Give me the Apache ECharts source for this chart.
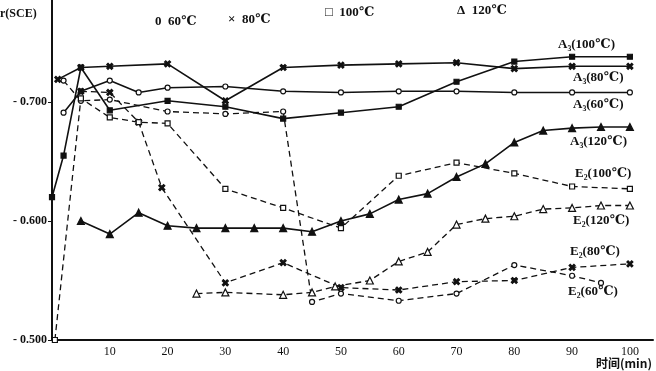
<!DOCTYPE html>
<html><head><meta charset="utf-8">
<script src="https://cdn.jsdelivr.net/npm/echarts@6/dist/echarts.min.js"></script>
<style>html,body{margin:0;padding:0;background:#fff}#c{width:656px;height:371px}</style>
</head><body><div id="c"></div>
<script>
// time (min) and potential (V vs SCE)
var tA3_60  = [2,5,10,15,20,30,40,50,60,70,80,90,100];
var vA3_60  = [-0.691,-0.709,-0.718,-0.708,-0.712,-0.713,-0.709,-0.708,-0.709,-0.709,-0.708,-0.708,-0.708];
var tA3_80  = [1,5,10,20,30,40,50,60,70,80,90,100];
var vA3_80  = [-0.719,-0.729,-0.730,-0.732,-0.701,-0.729,-0.731,-0.732,-0.733,-0.728,-0.730,-0.730];
var tA3_100 = [0,2,5,10,20,30,40,50,60,70,80,90,100];
var vA3_100 = [-0.620,-0.655,-0.729,-0.693,-0.701,-0.696,-0.686,-0.691,-0.696,-0.717,-0.734,-0.738,-0.738];
var tA3_120 = [5,10,15,20,25,30,35,40,45,50,55,60,65,70,75,80,85,90,95,100];
var vA3_120 = [-0.600,-0.589,-0.607,-0.596,-0.594,-0.594,-0.594,-0.594,-0.591,-0.600,-0.606,-0.618,-0.623,-0.637,-0.648,-0.666,-0.676,-0.678,-0.679,-0.679];
var tE2_60  = [2,5,10,20,30,40,45,50,60,70,80,90,95];
var vE2_60  = [-0.718,-0.701,-0.702,-0.692,-0.690,-0.692,-0.532,-0.539,-0.533,-0.539,-0.563,-0.554,-0.548];
var tE2_80  = [5,10,15,19,30,40,50,60,70,80,90,100];
var vE2_80  = [-0.709,-0.708,-0.683,-0.628,-0.548,-0.565,-0.544,-0.542,-0.549,-0.550,-0.561,-0.564];
var tE2_100 = [0.5,5,10,15,20,30,40,50,60,70,80,90,100];
var vE2_100 = [-0.500,-0.703,-0.687,-0.683,-0.682,-0.627,-0.611,-0.594,-0.638,-0.649,-0.640,-0.629,-0.627];
var tE2_120 = [25,30,40,45,49,55,60,65,70,75,80,85,90,95,100];
var vE2_120 = [-0.539,-0.540,-0.538,-0.540,-0.545,-0.550,-0.566,-0.574,-0.597,-0.602,-0.604,-0.610,-0.611,-0.613,-0.613];

var xTicks = [10,20,30,40,50,60,70,80,90,100];
var yTicks = [-0.7,-0.6,-0.5];

var seriesLabels = ['A₃(60℃)','A₃(80℃)','A₃(100℃)','A₃(120℃)','E₂(60℃)','E₂(80℃)','E₂(100℃)','E₂(120℃)'];
var legendTexts = ['0  60℃','×  80℃','□  100℃','Δ  120℃'];
var xName = '时间(min)';
var yName = 'r(SCE)';

function pairs(t, v){ return t.map(function(x,i){ return [x, v[i]]; }); }
var CROSS = 'path://M2,0 L5,3 L8,0 L10,2 L7,5 L10,8 L8,10 L5,7 L2,10 L0,8 L3,5 L0,2 Z';

function mk(name, t, v, dashed, symbol, size, hollow){
  return {
    name: name, type: 'line', data: pairs(t, v),
    symbol: symbol, symbolSize: size, showSymbol: true,
    lineStyle: { color: '#111', width: dashed ? 1.3 : 1.6, type: dashed ? [6,4] : 'solid' },
    itemStyle: { color: hollow ? '#fff' : '#111', borderColor: '#111', borderWidth: 1.2 },
    animation: false, z: 3
  };
}

var serif = '"Liberation Serif","DejaVu Serif",serif';
var chart = echarts.init(document.getElementById('c'));
var tx = function(x, y, s, size, extra){
  var o = { type: 'text', left: x, top: y, style: { text: s, font: 'bold ' + (size||12) + 'px ' + serif, fill: '#111' } };
  if (extra) for (var k in extra) o.style[k] = extra[k];
  return o;
};

chart.setOption({
  backgroundColor: '#fff',
  animation: false,
  grid: { left: 52, right: 3, top: 0, bottom: 31, containLabel: false },
  xAxis: {
    type: 'value', min: 0, max: 104, interval: 10,
    axisLine: { show: true, lineStyle: { color: '#111', width: 2 } },
    axisTick: { show: false },
    splitLine: { show: false },
    axisLabel: { color: '#111', fontFamily: serif, fontSize: 12, margin: 6,
      formatter: function(v){ return xTicks.indexOf(v) >= 0 ? String(v) : ''; } }
  },
  yAxis: {
    type: 'value', inverse: true, min: -0.7857, max: -0.5,
    axisLine: { show: true, lineStyle: { color: '#111', width: 2 } },
    axisTick: { show: true, length: 4, lineStyle: { color: '#111' }, customValues: yTicks },
    splitLine: { show: false },
    axisLabel: { color: '#111', fontFamily: serif, fontWeight: 'bold', fontSize: 12, margin: 5,
      customValues: yTicks,
      formatter: function(v){ return '- ' + Math.abs(v).toFixed(3); } }
  },
  series: [
    mk(seriesLabels[0], tA3_60,  vA3_60,  false, 'circle', 5, true),
    mk(seriesLabels[1], tA3_80,  vA3_80,  false, CROSS, 6, false),
    mk(seriesLabels[2], tA3_100, vA3_100, false, 'rect', 5, false),
    mk(seriesLabels[3], tA3_120, vA3_120, false, 'triangle', 7, false),
    mk(seriesLabels[4], tE2_60,  vE2_60,  true, 'circle', 5, true),
    mk(seriesLabels[5], tE2_80,  vE2_80,  true, CROSS, 6, false),
    mk(seriesLabels[6], tE2_100, vE2_100, true, 'rect', 5, true),
    mk(seriesLabels[7], tE2_120, vE2_120, true, 'triangle', 7, true)
  ],
  graphic: [
    tx(0, 8, yName, 12),
    tx(596, 357, xName, 12, { font: 'bold 12px "Noto Sans CJK SC", ' + serif }),
    tx(155, 15, legendTexts[0], 13),
    tx(228, 13, legendTexts[1], 13),
    tx(325, 6, legendTexts[2], 13),
    tx(457, 4, legendTexts[3], 13),
    tx(558, 38, seriesLabels[2], 13),
    tx(573, 71, seriesLabels[1], 13),
    tx(573, 98, seriesLabels[0], 13),
    tx(570, 135, seriesLabels[3], 13),
    tx(575, 167, seriesLabels[6], 13),
    tx(573, 214, seriesLabels[7], 13),
    tx(570, 245, seriesLabels[5], 13),
    tx(568, 285, seriesLabels[4], 13)
  ]
});
</script></body></html>
